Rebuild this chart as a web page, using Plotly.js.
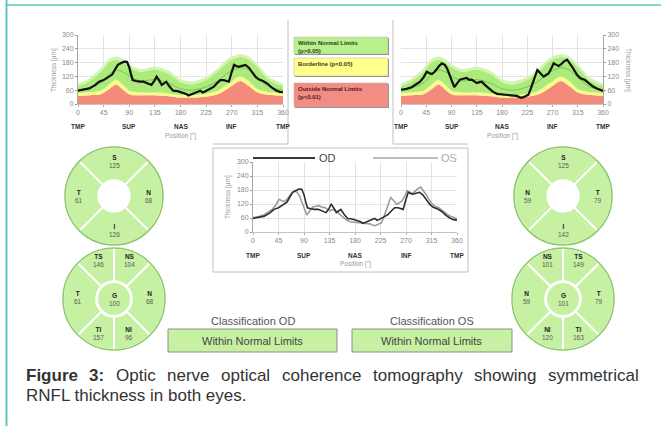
<!DOCTYPE html>
<html><head><meta charset="utf-8">
<script src="https://cdn.plot.ly/plotly-3.0.1.min.js"></script>
<style>html,body{margin:0;padding:0;background:#fff}#chart{width:661px;height:426px}</style>
</head><body><div id="chart"></div>
<script>
// ---------------- data ----------------
const normDeg  = [0, 20, 40, 55, 67, 80, 92, 110, 135, 160, 180, 200, 225, 245, 265, 285, 300, 315, 335, 360];
const normP1   = [35, 38, 42, 65, 85, 60, 40, 38, 38, 34, 28, 28, 32, 42, 70, 100, 78, 50, 40, 35];
const normP5   = [48, 52, 58, 85, 105, 80, 55, 50, 50, 46, 38, 38, 45, 58, 90, 120, 100, 65, 52, 48];
const normP95  = [78, 100, 140, 182, 194, 180, 156, 140, 150, 130, 95, 85, 105, 140, 186, 204, 194, 160, 105, 78];
const normP99  = [88, 112, 155, 197, 207, 194, 170, 152, 162, 144, 108, 98, 118, 154, 200, 216, 207, 174, 118, 88];
const normMean = [60, 70, 92, 130, 148, 138, 118, 100, 106, 90, 66, 60, 74, 100, 138, 158, 148, 115, 76, 60];

const odDeg = [0,10,20,30,37,45,50,55,60,65,70,76,81,86,90,93,96,102,108,115,122,129,134,138,142,147,151,155,160,167,175,185,190,194,200,207,215,219,223,230,238,244,250,256,261,265,270,274,278,282,288,294,300,306,312,318,325,333,340,348,354,360];
const odThk = [58,62,68,82,97,104,112,119,128,150,170,178,184,183,160,130,104,100,97,97,90,83,100,119,105,83,90,97,78,58,56,50,44,37,42,50,58,50,54,62,74,90,104,104,100,97,140,170,165,162,166,170,158,140,118,106,100,88,72,59,53,51];

const osDeg = [0,10,19,27,34,40,46,50,55,60,64,69,73,78,82,86,89,92,95,100,105,111,117,122,126,131,135,140,144,150,156,163,171,180,188,197,206,211,215,221,227,231,236,240,243,248,254,258,263,268,272,277,281,285,290,296,300,305,310,314,320,328,335,343,350,358,360];
const osThk = [62,66,73,85,97,115,140,135,130,140,155,168,177,170,155,130,111,85,73,90,106,110,113,105,106,98,91,95,97,82,69,55,44,42,40,38,35,30,27,33,40,65,97,125,148,135,119,125,133,155,177,170,165,172,184,193,180,162,142,126,112,104,90,75,66,58,57];

const xTickVals = [0, 45, 90, 135, 180, 225, 270, 315, 360];
const yTickVals = [0, 60, 120, 180, 240, 300];
const regionNames = ['TMP', 'SUP', 'NAS', 'INF', 'TMP'];
const regionDeg = [0, 90, 180, 270, 360];

const quadLabels = ['S', 'N', 'I', 'T'];
const odQuad = [125, 68, 126, 61];
const osQuad = [125, 59, 142, 79];
const sectLabels = ['NS', 'N', 'NI', 'TI', 'T', 'TS'];
const odSect = [104, 68, 96, 157, 61, 146];
const osSect = [101, 59, 120, 163, 79, 149];
const odGlobal = 100;
const osGlobal = 101;

const legendTexts = ['Within Normal Limits<br>(p>0.05)', 'Borderline (p<0.05)', 'Outside Normal Limits<br>(p<0.01)'];
const classTitles = ['Classification OD', 'Classification OS'];
const classResults = ['Within Normal Limits', 'Within Normal Limits'];
const captionBold = ['Figure', '3:'];
const captionLine1 = ['Optic', 'nerve', 'optical', 'coherence', 'tomography', 'showing', 'symmetrical'];
const captionLine2 = 'RNFL thickness in both eyes.';

// ---------------- layout helpers ----------------
const W = 661, H = 426;
const FONT = 'Liberation Sans, Arial, sans-serif';
const px = v => v / W, py = v => 1 - v / H;
const RED = 'rgb(243,138,124)', YEL = 'rgb(250,250,135)', GRN = 'rgb(172,234,124)', LGRN = 'rgb(208,245,175)';
const CFILL = '#c6f0a2', CRING = '#8cc868';

function xAx(l, r, anchor) {
  return {domain: [px(l), px(r)], anchor, range: [0, 360], tickvals: xTickVals, ticktext: xTickVals.map(String),
    showgrid: true, gridcolor: '#e3e3e3', zeroline: false, showline: true, linecolor: '#c4c4c4',
    ticks: 'outside', ticklen: 2, tickcolor: '#aaa', tickfont: {family: FONT, size: 7, color: '#8a8a8a'}, fixedrange: true};
}
function yAx(top, bot, anchor, side) {
  return {domain: [py(bot), py(top)], anchor, side, range: [0, 300], tickvals: yTickVals, ticktext: yTickVals.map(String),
    showgrid: true, gridcolor: '#e3e3e3', zeroline: false, showline: true, linecolor: '#a8a8a8',
    ticks: 'outside', ticklen: 2, tickcolor: '#999', tickfont: {family: FONT, size: 7, color: '#8a8a8a'}, fixedrange: true};
}
function bands(xa, ya) {
  const base = {x: normDeg, mode: 'lines', xaxis: xa, yaxis: ya, hoverinfo: 'skip', showlegend: false, line: {width: 0, shape: 'spline', smoothing: 0.8}};
  return [
    Object.assign({}, base, {y: normP1, fill: 'tozeroy', fillcolor: RED}),
    Object.assign({}, base, {y: normP5, fill: 'tonexty', fillcolor: YEL}),
    Object.assign({}, base, {y: normP95, fill: 'tonexty', fillcolor: GRN}),
    Object.assign({}, base, {y: normP99, fill: 'tonexty', fillcolor: LGRN}),
    Object.assign({}, base, {y: normMean, line: {width: 1, color: 'rgb(120,196,84)', shape: 'spline', smoothing: 0.8}})
  ];
}

const traces = [];
traces.push(...bands('x', 'y'));
traces.push({x: odDeg, y: odThk, mode: 'lines', xaxis: 'x', yaxis: 'y', line: {color: '#111', width: 2.2}, hoverinfo: 'skip', showlegend: false});
traces.push(...bands('x2', 'y2'));
traces.push({x: osDeg, y: osThk, mode: 'lines', xaxis: 'x2', yaxis: 'y2', line: {color: '#111', width: 2.2}, hoverinfo: 'skip', showlegend: false});
traces.push({x: osDeg, y: osThk, mode: 'lines', xaxis: 'x3', yaxis: 'y3', line: {color: '#9c9c9c', width: 1.6}, hoverinfo: 'skip', showlegend: false});
traces.push({x: odDeg, y: odThk, mode: 'lines', xaxis: 'x3', yaxis: 'y3', line: {color: '#2e2e2e', width: 1.6}, hoverinfo: 'skip', showlegend: false});

// ---------------- circle diagrams ----------------
const odAngle = {S: 90, I: 270, N: 0, T: 180, NS: 67.5, NI: 292.5, TS: 112.5, TI: 247.5};
const angleOf = (lab, isOD) => isOD ? odAngle[lab] : ((540 - odAngle[lab]) % 360);
const widthOf = lab => lab.length === 1 ? 90 : 45;

const circles = [
  {id: 'polar',  cx: 114, cy: 196, R: 49, type: 'quad', od: true,  labels: quadLabels, vals: odQuad},
  {id: 'polar2', cx: 114, cy: 299, R: 51, type: 'sect', od: true,  labels: sectLabels, vals: odSect, g: odGlobal},
  {id: 'polar3', cx: 563, cy: 196, R: 49, type: 'quad', od: false, labels: quadLabels, vals: osQuad},
  {id: 'polar4', cx: 563, cy: 299, R: 51, type: 'sect', od: false, labels: sectLabels, vals: osSect, g: osGlobal}
];
const layoutPolars = {};
const annotations = [];
const LBL = 6.5;
circles.forEach(c => {
  layoutPolars[c.id] = {
    domain: {x: [px(c.cx - c.R), px(c.cx + c.R)], y: [py(c.cy + c.R), py(c.cy - c.R)]},
    bgcolor: 'rgba(0,0,0,0)', hole: 0, barmode: 'overlay',
    radialaxis: {visible: false, range: [0, 1]},
    angularaxis: {visible: true, showline: true, linecolor: CRING, linewidth: 1.5, showticklabels: false, ticks: '', showgrid: false, rotation: 0, direction: 'counterclockwise'}
  };
  const inner = c.type === 'quad' ? 0.32 : 0.35;
  traces.push({type: 'barpolar', subplot: c.id, theta: c.labels.map(l => angleOf(l, c.od)),
    width: c.labels.map(widthOf), base: c.labels.map(() => inner), r: c.labels.map(() => 1 - inner),
    marker: {color: CFILL, line: {color: '#ffffff', width: 2}}, hoverinfo: 'skip', showlegend: false});
  if (c.type === 'sect') {
    traces.push({type: 'barpolar', subplot: c.id, theta: [45, 135, 225, 315], width: [90, 90, 90, 90],
      base: [0, 0, 0, 0], r: [0.31, 0.31, 0.31, 0.31],
      marker: {color: CFILL, line: {color: CFILL, width: 0.5}}, hoverinfo: 'skip', showlegend: false});
    annotations.push({xref: 'paper', yref: 'paper', x: px(c.cx), y: py(c.cy), xanchor: 'center', yanchor: 'middle', showarrow: false,
      text: '<span style="color:#222"><b>G</b></span><br>' + c.g, font: {family: FONT, size: LBL, color: '#5a5a5a'}});
  }
  c.labels.forEach((lab, i) => {
    const a = angleOf(lab, c.od) * Math.PI / 180;
    const rr = (c.type === 'quad' ? 0.71 : (lab.length === 1 ? 0.7 : 0.77)) * c.R;
    const shift = c.type === 'sect' ? -2 : 0;
    annotations.push({xref: 'paper', yref: 'paper', x: px(c.cx + rr * Math.cos(a)), y: py(c.cy - rr * Math.sin(a) + shift),
      xanchor: 'center', yanchor: 'middle', showarrow: false,
      text: '<span style="color:#222"><b>' + lab + '</b></span><br>' + c.vals[i], font: {family: FONT, size: LBL, color: '#5a5a5a'}});
  });
});

// ---------------- chart annotations ----------------
function chartTexts(xa, xl, xr, bottom, titleX, titleAngle, titleY) {
  regionNames.forEach((n, i) => annotations.push({xref: xa, yref: 'paper', x: regionDeg[i], y: py(bottom + 23), xanchor: 'center', yanchor: 'middle', showarrow: false,
    text: '<b>' + n + '</b>', font: {family: FONT, size: 6.5, color: '#333'}}));
  annotations.push({xref: 'paper', yref: 'paper', x: px((xl + xr) / 2), y: py(bottom + 32), xanchor: 'center', yanchor: 'middle', showarrow: false,
    text: 'Position [°]', font: {family: FONT, size: 6.5, color: '#999'}});
  annotations.push({xref: 'paper', yref: 'paper', x: px(titleX), y: py(titleY), xanchor: 'center', yanchor: 'middle', showarrow: false, textangle: titleAngle,
    text: 'Thickness [µm]', font: {family: FONT, size: 6.5, color: '#999'}});
}
chartTexts('x', 78, 283, 104, 54, -90, 70);
chartTexts('x2', 401, 603, 104, 628, 90, 70);
chartTexts('x3', 253, 457, 232, 228, -90, 197);

// centre legend
annotations.push({xref: 'paper', yref: 'paper', x: px(317), y: py(158), xanchor: 'left', yanchor: 'middle', showarrow: false, text: 'OD', font: {family: FONT, size: 11, color: '#444'}});
annotations.push({xref: 'paper', yref: 'paper', x: px(439), y: py(158), xanchor: 'left', yanchor: 'middle', showarrow: false, text: 'OS', font: {family: FONT, size: 11, color: '#aaa'}});

// legend boxes
const legendBoxes = [
  {y0: 37, y1: 54, fill: 'rgb(184,240,140)', tc: '#2f3b22'},
  {y0: 58, y1: 76, fill: 'rgb(255,255,140)', tc: '#3a3a22'},
  {y0: 83, y1: 107, fill: 'rgb(243,140,130)', tc: '#4a2020'}
];
const shapes = [];
legendBoxes.forEach((b, i) => {
  shapes.push({type: 'rect', xref: 'paper', yref: 'paper', x0: px(295), x1: px(389), y0: py(b.y1 + 1), y1: py(b.y0 + 1), fillcolor: '#8c8c8c', line: {width: 0}});
  shapes.push({type: 'rect', xref: 'paper', yref: 'paper', x0: px(294), x1: px(388), y0: py(b.y1), y1: py(b.y0), fillcolor: b.fill, line: {color: '#b0b0b0', width: 0.5}});
  annotations.push({xref: 'paper', yref: 'paper', x: px(296), y: py(b.y0 + 1), xanchor: 'left', yanchor: 'top', align: 'left', showarrow: false,
    text: '<b>' + legendTexts[i] + '</b>', font: {family: FONT, size: 6, color: b.tc}});
});

// classification boxes
const classBoxes = [{x0: 168, x1: 337}, {x0: 352, x1: 512}];
classBoxes.forEach((b, i) => {
  shapes.push({type: 'rect', xref: 'paper', yref: 'paper', x0: px(b.x0), x1: px(b.x1), y0: py(352), y1: py(329), fillcolor: CFILL, line: {color: '#8e8e8e', width: 1}});
  annotations.push({xref: 'paper', yref: 'paper', x: px((b.x0 + b.x1) / 2), y: py(321), xanchor: 'center', yanchor: 'middle', showarrow: false,
    text: classTitles[i], font: {family: FONT, size: 11, color: '#555'}});
  annotations.push({xref: 'paper', yref: 'paper', x: px((b.x0 + b.x1) / 2), y: py(341), xanchor: 'center', yanchor: 'middle', showarrow: false,
    text: classResults[i], font: {family: FONT, size: 11, color: '#444'}});
});

// frame lines
const line = (x0, y0, x1, y1, color, w) => shapes.push({type: 'line', xref: 'paper', yref: 'paper', x0: px(x0), y0: py(y0), x1: px(x1), y1: py(y1), line: {color, width: w}});
line(6.5, 0, 6.5, 426, '#5ccabb', 2);
line(6, 5, 661, 5, '#5ccabb', 1.5);
line(288, 20, 288, 144, '#c0c0c0', 1);
line(393, 20, 393, 144, '#c0c0c0', 1);
line(213, 144, 288, 144, '#c0c0c0', 1);
line(393, 144, 468, 144, '#c0c0c0', 1);
shapes.push({type: 'rect', xref: 'paper', yref: 'paper', x0: px(213), x1: px(468), y0: py(272), y1: py(148), line: {color: '#c0c0c0', width: 1}});
line(253, 158, 315, 158, '#3a3a3a', 2);
line(373, 158, 438, 158, '#bdbdbd', 2);

// caption (justified first line)
const capSize = 17;
const ctx = document.createElement('canvas').getContext('2d');
const tw = (s, bold) => { ctx.font = (bold ? 'bold ' : '') + capSize + 'px "Liberation Sans"'; return ctx.measureText(s).width; };
const words = captionBold.map(w => ({w, b: true})).concat(captionLine1.map(w => ({w, b: false})));
const capL = 25, capR = 638;
const total = words.reduce((s, o) => s + tw(o.w, o.b), 0);
const gap = (capR - capL - total) / (words.length - 1);
let cx = capL;
words.forEach(o => {
  annotations.push({xref: 'paper', yref: 'paper', x: px(cx), y: py(375), xanchor: 'left', yanchor: 'middle', showarrow: false, borderpad: 0,
    text: o.b ? '<b>' + o.w + '</b>' : o.w, font: {family: FONT, size: capSize, color: '#333'}});
  cx += tw(o.w, o.b) + gap;
});
annotations.push({xref: 'paper', yref: 'paper', x: px(capL), y: py(395), xanchor: 'left', yanchor: 'middle', showarrow: false, borderpad: 0,
  text: captionLine2, font: {family: FONT, size: capSize, color: '#333'}});

const layout = Object.assign({
  width: W, height: H, autosize: false, margin: {l: 0, r: 0, t: 0, b: 0, pad: 0},
  paper_bgcolor: '#fff', plot_bgcolor: '#fff', showlegend: false, hovermode: false,
  font: {family: FONT},
  xaxis: xAx(78, 283, 'y'), yaxis: yAx(35, 104, 'x', 'left'),
  xaxis2: xAx(401, 603, 'y2'), yaxis2: yAx(35, 104, 'x2', 'right'),
  xaxis3: xAx(253, 457, 'y3'), yaxis3: yAx(162, 232, 'x3', 'left'),
  shapes, annotations
}, layoutPolars);

Plotly.newPlot('chart', traces, layout, {staticPlot: true, displayModeBar: false});
</script></body></html>
